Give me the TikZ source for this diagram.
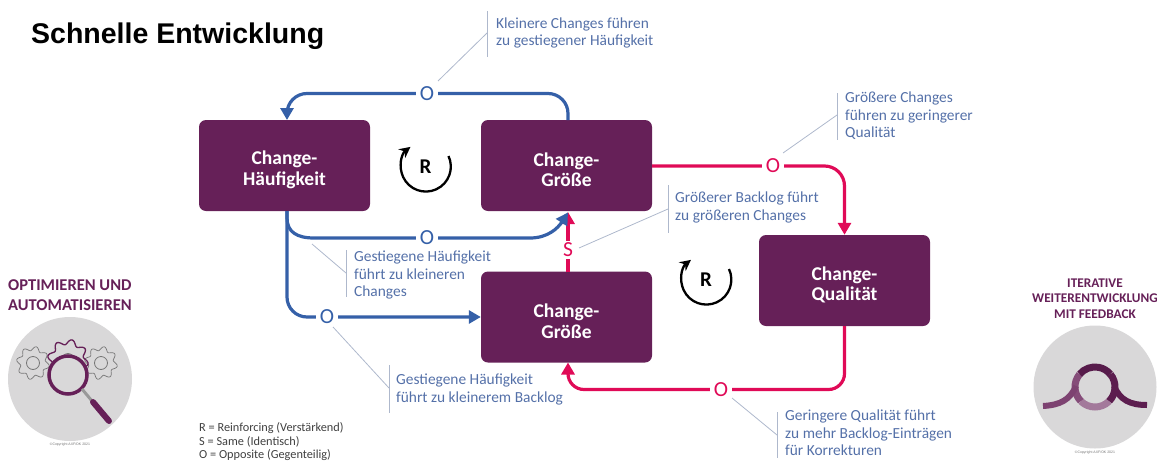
\documentclass[tikz,border=0pt]{standalone}
\usepackage{fontspec}
\setmainfont{Liberation Sans}
\newfontfamily\lab{Carlito}
\usetikzlibrary{arrows.meta,calc}
\definecolor{plum}{HTML}{662058}
\definecolor{bl}{HTML}{3560A8}
\definecolor{rd}{HTML}{E00A57}
\definecolor{txtb}{HTML}{5470A8}
\definecolor{lead}{HTML}{AEB8CC}
\definecolor{disc}{HTML}{D9D8D9}
\definecolor{gearg}{HTML}{777777}
\newcommand{\boxlines}[2]{\rule{0pt}{22pt}#1\\#2}
\tikzset{
 px/.style={x=1pt,y=-1pt},
 box/.style={fill=plum,rounded corners=7pt,minimum width=171pt,minimum height=91pt,inner sep=0pt,align=center,text=white,font=\lab\bfseries\fontsize{19.5}{20.5}\selectfont},
 blue link/.style={draw=bl,line width=3.2pt,rounded corners=20pt},
 red link/.style={draw=rd,line width=3.2pt,rounded corners=20pt},
 tip/.style={-{Triangle[length=12pt,width=13pt]}},
 pol/.style={fill=white,inner xsep=4pt,inner ysep=1pt,font=\lab\fontsize{21.5}{22}\selectfont},
 note/.style={anchor=north west,align=left,text=txtb,inner sep=0pt,font=\lab\fontsize{15.4}{17.5}\selectfont},
 leadline/.style={draw=lead,line width=0.8pt},
 loopmark/.style={font=\lab\bfseries\fontsize{21}{22}\selectfont,inner sep=0pt},
 loopring/.style={line width=2.3pt,-{Stealth[length=11pt,width=11pt]}},
 heading/.style={anchor=west,align=left,text=plum,inner sep=0pt,font=\lab\bfseries\fontsize{16.5}{17.5}\selectfont},
 micro/.style={inner sep=0pt,text=black!55,font=\fontsize{3.5}{4}\selectfont},
}
\begin{document}
\begin{tikzpicture}[px]
\useasboundingbox (0,0) rectangle (1157,461);
\node[anchor=west,inner sep=0pt,font=\bfseries\fontsize{28.5}{30}\selectfont] (title) at (31,36) {Schnelle Entwicklung};
% boxes
\node[box] (h) at (284.5,165.5) {\boxlines{Change-}{Häufigkeit}};
\node[box] (g) at (566.5,165.5) {\boxlines{Change-}{Größe}};
\node[box] (b) at (566.5,317) {\boxlines{Change-}{Größe}};
\node[box] (q) at (844.5,280.5) {\boxlines{Change-}{Qualität}};
% coordinates for routing
\coordinate (hb) at (287,211);
\coordinate (gtop) at (568,120);
\coordinate (htop) at (287,120);
\coordinate (gbot) at (568,212);
\coordinate (bbot) at (568,362.5);
\coordinate (btop) at (568,272);
% links
\draw[red link,tip] (btop) -- (gbot);
\draw[red link,tip] (g.east |- 0,166) -- (844.5,166) -- (q.north);
\draw[red link,tip,rounded corners=16pt] (q.south) -- (844.5,389.5) -- (568,389.5) -- (bbot);
\draw[blue link,tip] (gtop) -- (568,93.5) -- (287,93.5) -- (htop);
\draw[blue link,tip,rounded corners=0pt] (hb) -- (287,218) .. controls (287,232) and (297,238) .. (314,238) -- (530,238) .. controls (548,238) and (558,228) .. (568,212.5);
\draw[blue link,tip] (hb) -- (287,317) -- (b.west);
% polarity
\node[pol,text=bl] (o1) at (427,93.5) {O};
\node[pol,text=bl] (o2) at (427,238) {O};
\node[pol,text=bl] (o3) at (327,317) {O};
\node[pol,text=rd] (o4) at (773,166) {O};
\node[pol,text=rd] (o5) at (721,389.5) {O};
\node[pol,text=rd,inner sep=1.5pt] (s1) at (568,250) {S};
% loop marks
\node[loopmark] (r1) at (425.5,166.5) {R};
\draw[loopring] ($(r1)+(23,-10.5)$) arc[start angle=25,end angle=-232,radius=25pt];
\node[loopmark] (r2) at (706,279.5) {R};
\draw[loopring] ($(r2)+(23,-10.5)$) arc[start angle=25,end angle=-232,radius=25pt];
% notes
\node[note] (n1) at (496,17.5) {Kleinere Changes führen\\zu gestiegener Häufigkeit};
\draw[leadline] (487,11) -- (487,57);
\draw[leadline] (487,33) -- (438,81);
\node[note] (n2) at (845,92) {Größere Changes\\führen zu geringerer\\Qualität};
\draw[leadline] (837,93) -- (837,140);
\draw[leadline] (837,115) -- (783,153);
\node[note] (n3) at (675,192) {Größerer Backlog führt\\zu größeren Changes};
\draw[leadline] (668,185) -- (668,233);
\draw[leadline] (668,209) -- (579,248);
\node[note] (n4) at (354,251) {Gestiegene Häufigkeit\\führt zu kleineren\\Changes};
\draw[leadline] (346,250) -- (346,297);
\draw[leadline] (346,273) -- (312,244);
\node[note] (n5) at (396,374) {Gestiegene Häufigkeit\\führt zu kleinerem Backlog};
\draw[leadline] (389,365) -- (389,413);
\draw[leadline] (389,388) -- (333,327);
\node[note] (n6) at (785,410) {Geringere Qualität führt\\zu mehr Backlog-Einträgen\\für Korrekturen};
\draw[leadline] (777,412) -- (777,458);
\draw[leadline] (777,435) -- (732,398);
% legend
\node[anchor=north west,align=left,inner sep=0pt,text=black!75,font=\lab\fontsize{12.3}{13.6}\selectfont] (leg) at (199,422.5) {R = Reinforcing (Verstärkend)\\S = Same (Identisch)\\O = Opposite (Gegenteilig)};
% left emblem
\node[heading] (ht1) at (8,285.5) {OPTIMIEREN UND};
\node[heading] (ht2) at (8,305) {AUTOMATISIEREN};
\fill[disc] (70,379) circle (62);
\foreach \cx/\cy/\rr/\am/\w/\c in {33/363/14.5/2/0.7/gearg,101/363/14.5/2/0.7/gearg,68/360/18/2.5/1.3/plum}{
 \draw[draw=\c,line width=\w pt] plot[domain=0:360,samples=97,smooth] ({\cx+(\rr+\am*sin(8*\x))*cos(\x)},{\cy+(\rr+\am*sin(8*\x))*sin(\x)});
 \draw[draw=gearg,line width=0.8pt] (\cx,\cy) circle (6.5);
}
\draw[plum,line width=3.5pt,fill=disc] (68,375) circle (19);
\draw[black!40,line width=3pt] (82,389) -- (92,401);
\draw[plum,line width=6pt,line cap=round] (93,402) -- (109,421);
\node[micro] (c1) at (70,445) {©Copyright AXF/OK 2021};
% right emblem
\node[inner sep=0pt,align=center,text=plum,font=\lab\bfseries\fontsize{13.3}{15.5}\selectfont] (ht3) at (1095,298.5) {ITERATIVE\\WEITERENTWICKLUNG\\MIT FEEDBACK};
\fill[disc] (1095,387) circle (61.5);
\coordinate (ring) at (1095,387);
\draw[plum!60,line width=7pt] ($(ring)+(45:20)$) arc[start angle=45,end angle=135,radius=20];
\draw[plum!80,line width=7pt] ($(ring)+(135:20)$) arc[start angle=135,end angle=220,radius=20];
\draw[plum!85!black,line width=7pt] ($(ring)+(-140:20)$) arc[start angle=-140,end angle=-40,radius=20];
\draw[plum!90!black,line width=7pt] ($(ring)+(-40:20)$) arc[start angle=-40,end angle=45,radius=20];
\draw[plum!85,line width=6pt] (1043,406) .. controls (1060,405) and (1070,400) .. (1076,386);
\draw[plum!90!black,line width=6pt] (1147,405) .. controls (1130,405) and (1120,400) .. (1114,386);
\node[micro] (c2) at (1095,453) {©Copyright AXF/OK 2021};
\end{tikzpicture}
\end{document}
